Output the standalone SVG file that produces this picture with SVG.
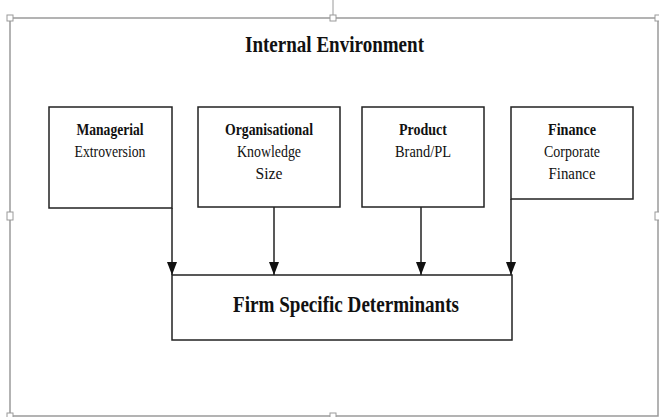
<svg xmlns="http://www.w3.org/2000/svg" width="659" height="417" viewBox="0 0 659 417">
<defs>
<style>
.box{fill:#fff;stroke:#222;stroke-width:1.5}
.t{font-family:"Liberation Serif","Times New Roman",serif;fill:#111;text-anchor:middle}
.b{font-weight:bold}
.n{font-size:17.5px}
.hd{fill:#fff;stroke:#9a9a9a;stroke-width:1}
.conn{stroke:#222;stroke-width:1.5;fill:none;marker-end:url(#ah)}
</style>
<marker id="ah" markerWidth="13" markerHeight="10" refX="13" refY="5" orient="auto" markerUnits="userSpaceOnUse" viewBox="0 0 13 10">
<path d="M0,0 L13,5 L0,10 Z" fill="#111"/>
</marker>
</defs>
<rect width="659" height="417" fill="#fff"/>
<g id="frame">
<line x1="333" y1="0" x2="333" y2="18" stroke="#9a9a9a"/>
<rect x="10" y="18" width="648" height="398" fill="none" stroke="#9a9a9a" stroke-width="1.5"/>
<rect class="hd" x="7" y="15" width="6" height="6"/>
<rect class="hd" x="330" y="15" width="6" height="6"/>
<rect class="hd" x="655" y="15" width="6" height="6"/>
<rect class="hd" x="7" y="212" width="6" height="8"/>
<rect class="hd" x="655" y="212" width="6" height="8"/>
<rect class="hd" x="7" y="413" width="6" height="6"/>
<rect class="hd" x="330" y="413" width="6" height="6"/>
</g>
<text id="title" class="t b" x="334.5" y="52" font-size="23" textLength="179" lengthAdjust="spacingAndGlyphs">Internal Environment</text>
<g id="managerial">
<rect class="box" x="49" y="107" width="123" height="101"/>
<text class="t b n" x="110" y="135" textLength="67" lengthAdjust="spacingAndGlyphs">Managerial</text>
<text class="t n" x="110" y="157" textLength="71" lengthAdjust="spacingAndGlyphs">Extroversion</text>
</g>
<g id="organisational">
<rect class="box" x="198" y="107" width="142" height="100"/>
<text class="t b n" x="269" y="135" textLength="88" lengthAdjust="spacingAndGlyphs">Organisational</text>
<text class="t n" x="269" y="157" textLength="64" lengthAdjust="spacingAndGlyphs">Knowledge</text>
<text class="t n" x="269" y="179" textLength="27" lengthAdjust="spacingAndGlyphs">Size</text>
</g>
<g id="product">
<rect class="box" x="362" y="107" width="122" height="100"/>
<text class="t b n" x="423" y="135" textLength="48" lengthAdjust="spacingAndGlyphs">Product</text>
<text class="t n" x="423" y="157" textLength="56" lengthAdjust="spacingAndGlyphs">Brand/PL</text>
</g>
<g id="finance">
<rect class="box" x="511" y="107" width="122" height="92"/>
<text class="t b n" x="572" y="135" textLength="48" lengthAdjust="spacingAndGlyphs">Finance</text>
<text class="t n" x="572" y="157" textLength="56" lengthAdjust="spacingAndGlyphs">Corporate</text>
<text class="t n" x="572" y="179" textLength="47" lengthAdjust="spacingAndGlyphs">Finance</text>
</g>
<g id="determinants">
<rect class="box" x="172" y="275" width="340" height="65"/>
<text class="t b" x="346" y="312" font-size="24" textLength="226" lengthAdjust="spacingAndGlyphs">Firm Specific Determinants</text>
</g>
<g id="connectors">
<line class="conn" x1="172" y1="208" x2="172" y2="275"/>
<line class="conn" x1="274" y1="207" x2="274" y2="275"/>
<line class="conn" x1="421" y1="207" x2="421" y2="275"/>
<line class="conn" x1="511" y1="199" x2="511" y2="275"/>
</g>
</svg>
